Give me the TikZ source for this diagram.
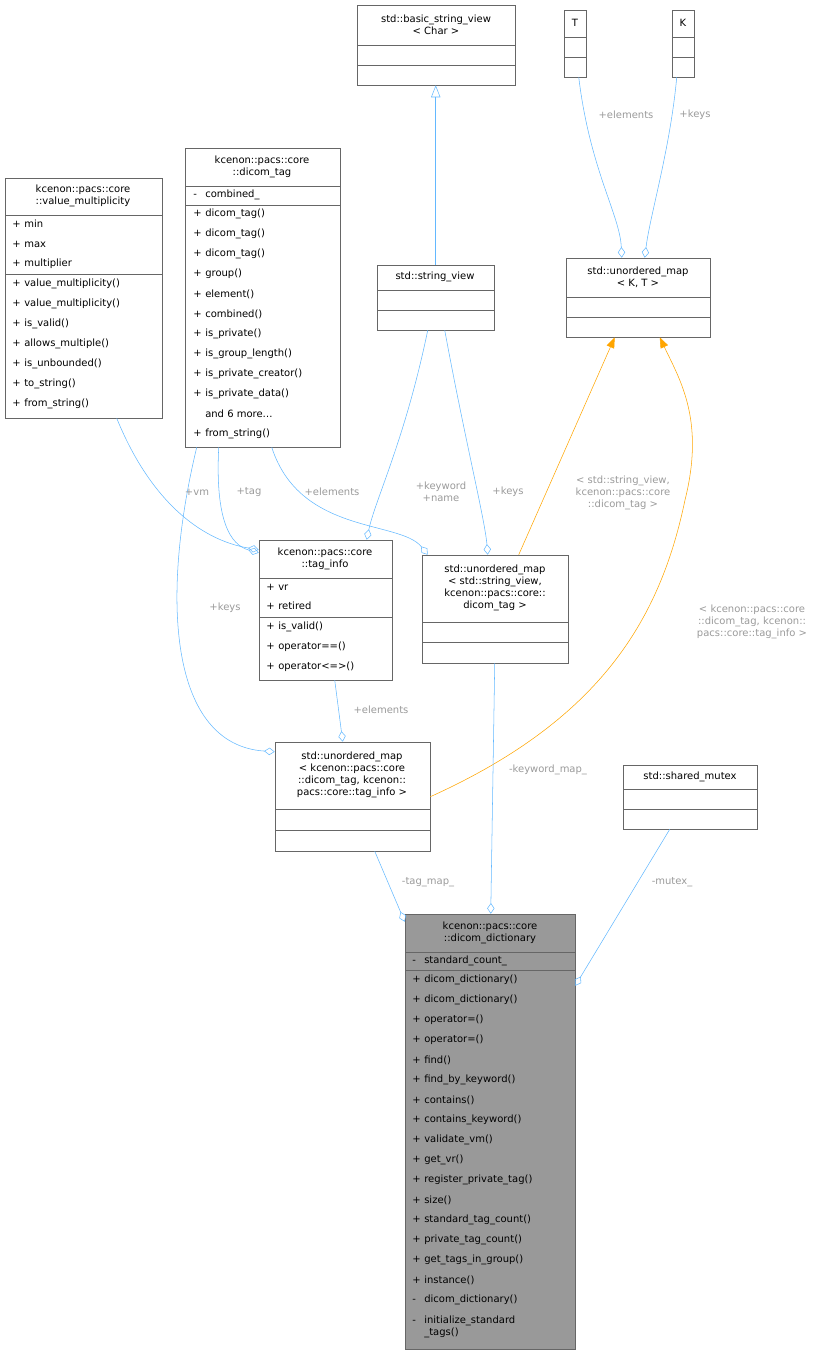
\documentclass[tikz,border=0pt]{standalone}
\usepackage{fontspec}
\setmainfont{DejaVu Sans}
\usetikzlibrary{arrows.meta,fit,calc}
\definecolor{edgeblue}{HTML}{63B8FF}
\definecolor{lblgray}{HTML}{9A9A9A}
\definecolor{instorange}{HTML}{FFA500}
\tikzset{
  cls/.style={draw=black!60, inner sep=0pt},
  ttl/.style={align=center, font=\fontsize{7.5}{9}\selectfont, inner sep=0pt},
  mem/.style={anchor=west, font=\fontsize{7.5}{9}\selectfont, inner sep=0pt},
  lbl/.style={align=center, text=lblgray, font=\fontsize{7.5}{9}\selectfont, inner sep=0pt},
  agg/.style={draw=edgeblue, -{Diamond[open,length=8pt,width=5.5pt]}},
  inst/.style={draw=instorange, -{Triangle[fill=instorange,length=8pt,width=6pt]}},
}
\newcommand{\vis}[2]{\makebox[9pt][l]{#1}#2}
\newcommand{\moredots}{and 6 more\ldots}
\begin{document}
\begin{tikzpicture}[x=0.75pt,y=-0.75pt]
\useasboundingbox (0,0) rectangle (829,1355);
% class boxes
\node[cls, fit={(357,5)(515,85)}] (bsv) {};
\node[ttl] at (436,25) {std::basic\_string\_view\\< Char >};
\draw[black!60] (357,45) -- (515,45) (357,65) -- (515,65);
\node[cls, fit={(564,10)(586,77)}] (T) {};
\node[ttl] at (575,23) {T};
\draw[black!60] (564,37) -- (586,37) (564,57) -- (586,57);
\node[cls, fit={(672,10)(694,77)}] (K) {};
\node[ttl] at (683,23) {K};
\draw[black!60] (672,37) -- (694,37) (672,57) -- (694,57);
\node[cls, fit={(566,258)(710,337)}] (mapKT) {};
\node[ttl] at (638,277) {std::unordered\_map\\< K, T >};
\draw[black!60] (566,297) -- (710,297) (566,317) -- (710,317);
\node[cls, fit={(377,265)(494,330)}] (sv) {};
\node[ttl] at (435,277) {std::string\_view};
\draw[black!60] (377,290) -- (494,290) (377,310) -- (494,310);
% dicom_tag
\node[cls, fit={(185,148)(340,447)}] (dtag) {};
\node[ttl] at (262,167) {kcenon::pacs::core\\::dicom\_tag};
\draw[black!60] (185,186) -- (340,186) (185,205) -- (340,205);
\node[mem] at (193,195) {\vis{-}{combined\_}};
\foreach \s/\t [count=\i] in {+/dicom\_tag(),+/dicom\_tag(),+/dicom\_tag(),+/group(),+/element(),+/combined(),+/is\_private(),+/is\_group\_length(),+/is\_private\_creator(),+/is\_private\_data(),{}/\moredots,+/from\_string()}
  \node[mem] at (193,194+20*\i) {\vis{\s}{\t}};
% value_multiplicity
\node[cls, fit={(5,178)(162,418)}] (vm) {};
\node[ttl] at (83,196) {kcenon::pacs::core\\::value\_multiplicity};
\draw[black!60] (5,215) -- (162,215) (5,274) -- (162,274);
\foreach \t [count=\i] in {min,max,multiplier}
  \node[mem] at (12,204+20*\i) {\vis{+}{\t}};
\foreach \t [count=\i] in {value\_multiplicity(),value\_multiplicity(),is\_valid(),allows\_multiple(),is\_unbounded(),to\_string(),from\_string()}
  \node[mem] at (12,264+20*\i) {\vis{+}{\t}};
% tag_info
\node[cls, fit={(259,540)(392,680)}] (tinfo) {};
\node[ttl] at (325,559) {kcenon::pacs::core\\::tag\_info};
\draw[black!60] (259,578) -- (392,578) (259,617) -- (392,617);
\node[mem] at (266,587) {\vis{+}{vr}};
\node[mem] at (266,606) {\vis{+}{retired}};
\foreach \t [count=\i] in {is\_valid(),operator==(),operator<=>()}
  \node[mem] at (266,607+20*\i) {\vis{+}{\t}};
% map string_view -> dicom_tag
\node[cls, fit={(422,555)(568,663)}] (mapsv) {};
\node[ttl] at (495,588) {std::unordered\_map\\< std::string\_view,\\kcenon::pacs::core::\\dicom\_tag >};
\draw[black!60] (422,622) -- (568,622) (422,642) -- (568,642);
% map dicom_tag -> tag_info
\node[cls, fit={(275,742)(430,851)}] (maptag) {};
\node[ttl] at (352,775) {std::unordered\_map\\< kcenon::pacs::core\\::dicom\_tag, kcenon::\\pacs::core::tag\_info >};
\draw[black!60] (275,809) -- (430,809) (275,830) -- (430,830);
% shared_mutex
\node[cls, fit={(623,765)(757,829)}] (mtx) {};
\node[ttl] at (690,777) {std::shared\_mutex};
\draw[black!60] (623,789) -- (757,789) (623,809) -- (757,809);
% dicom_dictionary
\node[cls, fill=black!40, fit={(405,914)(575,1349)}] (dict) {};
\node[ttl] at (490,933) {kcenon::pacs::core\\::dicom\_dictionary};
\draw[black!60] (405,952) -- (575,952) (405,970) -- (575,970);
\node[mem] at (412,961) {\vis{-}{standard\_count\_}};
\foreach \s/\t [count=\i] in {+/dicom\_dictionary(),+/dicom\_dictionary(),+/operator=(),+/operator=(),+/find(),+/find\_by\_keyword(),+/contains(),+/contains\_keyword(),+/validate\_vm(),+/get\_vr(),+/register\_private\_tag(),+/size(),+/standard\_tag\_count(),+/private\_tag\_count(),+/get\_tags\_in\_group(),+/instance(),-/dicom\_dictionary()}
  \node[mem] at (412,960+20*\i) {\vis{\s}{\t}};
\node[mem, align=left] at (412,1327) {\vis{-}{initialize\_standard}\\\hspace*{9pt}\_tags()};
% connectors
\draw[draw=edgeblue, -{Triangle[open,length=9pt,width=7pt]}] ($(sv.north west)+(59,0)$) -- ($(bsv.south west)+(79,0)$);
\draw[agg] ($(T.south west)+(15,0)$) .. controls (590,170) and (620,215) .. ($(mapKT.north west)+(56,0)$);
\draw[agg] ($(K.south west)+(5,0)$) .. controls (670,150) and (650,215) .. ($(mapKT.north west)+(79,0)$);
\draw[inst] ($(mapsv.north west)+(97,0)$) -- ($(mapKT.south west)+(49,0)$);
\draw[inst] ($(maptag.north east)+(0,55)$) .. controls (600,720) and (660,620) .. (685,500) .. controls (705,420) and (680,380) .. ($(mapKT.south west)+(94,0)$);
\draw[agg] ($(vm.south west)+(112,0)$) .. controls (150,500) and (200,540) .. ($(tinfo.north west)+(0,10)$);
\draw[agg] ($(dtag.south west)+(34,0)$) .. controls (215,520) and (230,545) .. ($(tinfo.north west)+(0,13)$);
\draw[agg] ($(dtag.south west)+(87,0)$) .. controls (300,535) and (400,520) .. ($(mapsv.north west)+(6,0)$);
\draw[agg] ($(dtag.south west)+(12,0)$) .. controls (160,600) and (170,745) .. ($(maptag.north west)+(0,10)$);
\draw[agg] ($(sv.south west)+(51,0)$) .. controls (405,440) and (375,500) .. ($(tinfo.north west)+(108,0)$);
\draw[agg] ($(sv.south west)+(68,0)$) .. controls (465,440) and (485,520) .. ($(mapsv.north west)+(66,0)$);
\draw[agg] ($(tinfo.south west)+(76,0)$) -- ($(maptag.north west)+(68,0)$);
\draw[agg] ($(maptag.south west)+(100,0)$) -- ($(dict.north west)+(0,8)$);
\draw[agg] ($(mapsv.south west)+(73,0)$) -- ($(dict.north west)+(86,0)$);
\draw[agg] ($(mtx.south west)+(47,0)$) -- ($(dict.north east)+(0,72)$);
% labels
\node[lbl] at (626,115) {+elements};
\node[lbl] at (695,115) {+keys};
\node[lbl] at (623,493) {< std::string\_view,\\kcenon::pacs::core\\::dicom\_tag >};
\node[lbl] at (752,622) {< kcenon::pacs::core\\::dicom\_tag, kcenon::\\pacs::core::tag\_info >};
\node[lbl] at (197,492) {+vm};
\node[lbl] at (249,492) {+tag};
\node[lbl] at (332,492) {+elements};
\node[lbl] at (441,492) {+keyword\\+name};
\node[lbl] at (508,492) {+keys};
\node[lbl] at (225,608) {+keys};
\node[lbl] at (381,710) {+elements};
\node[lbl] at (428,882) {-tag\_map\_};
\node[lbl] at (548,770) {-keyword\_map\_};
\node[lbl] at (672,882) {-mutex\_};
\end{tikzpicture}
\end{document}
